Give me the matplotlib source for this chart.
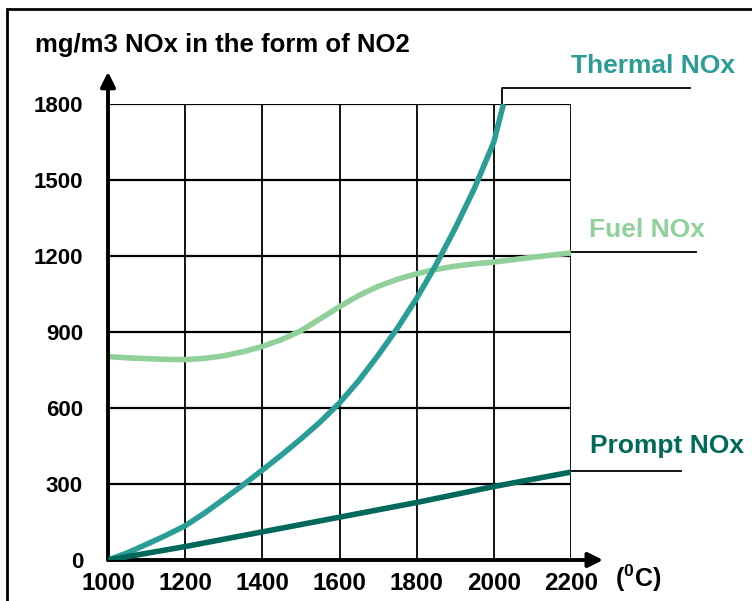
import matplotlib
matplotlib.use('Agg')
import matplotlib.pyplot as plt
from matplotlib.patches import Rectangle

plt.rcParams['font.family'] = ['Liberation Sans', 'DejaVu Sans']
plt.rcParams['mathtext.default'] = 'regular'

# values
thermal_t = [1000, 1050, 1100, 1150, 1200, 1250, 1300, 1350, 1400, 1450, 1500, 1550,
             1600, 1650, 1700, 1750, 1800, 1850, 1900, 1950, 2000, 2025]
thermal_v = [0, 28, 62, 97, 135, 185, 240, 296, 355, 415, 478, 545,
             620, 708, 808, 915, 1033, 1165, 1310, 1468, 1650, 1800]

fuel_t = [1000, 1050, 1100, 1150, 1200, 1250, 1300, 1350, 1400, 1450, 1500, 1550,
          1600, 1650, 1700, 1750, 1800, 1850, 1900, 1950, 2000, 2100, 2200]
fuel_v = [803, 798, 795, 792, 791, 796, 806, 822, 843, 870, 905, 952,
          1000, 1044, 1080, 1108, 1130, 1147, 1160, 1169, 1176, 1195, 1212]

prompt_t = [1000, 1200, 1400, 1600, 1800, 2000, 2200]
prompt_v = [0, 53, 111, 169, 227, 290, 347]

x_ticks = [1000, 1200, 1400, 1600, 1800, 2000, 2200]
y_ticks = [0, 300, 600, 900, 1200, 1500, 1800]

c_thermal = '#2a9d96'
c_fuel = '#90d09a'
c_prompt = '#00695c'

fig = plt.figure(figsize=(7.52, 6.01), dpi=100)
ax = fig.add_axes([108 / 752, 1 - 560 / 601, 463 / 752, 456 / 601])

# outer frame of the picture
fig.patches.append(Rectangle((7 / 752, -0.1), 1.2, 1 - 9 / 601 + 0.1, transform=fig.transFigure,
                             fill=False, edgecolor='black', lw=2))

ax.set_xlim(1000, 2200)
ax.set_ylim(0, 1800)
for x in x_ticks[1:]:
    ax.axvline(x, color='black', lw=1.3, zorder=1)
for y in y_ticks[1:]:
    ax.axhline(y, color='black', lw=1.6, zorder=1)
for s in ax.spines.values():
    s.set_visible(False)

ax.plot(fuel_t, fuel_v, color=c_fuel, lw=4, zorder=3, solid_capstyle='butt')
ax.plot(thermal_t, thermal_v, color=c_thermal, lw=4, zorder=4, solid_capstyle='butt')
ax.plot(prompt_t, prompt_v, color=c_prompt, lw=4, zorder=4, solid_capstyle='butt')

# axis arrows
arr = dict(arrowstyle='-|>', lw=2.8, color='black', mutation_scale=22, shrinkA=0, shrinkB=0)
ax.annotate('', xy=(1000, 1927), xytext=(1000, 0), arrowprops=arr, annotation_clip=False)
ax.annotate('', xy=(2283, 0), xytext=(1000, 0), arrowprops=arr, annotation_clip=False)

# leader lines to the labels
ax.plot([2021, 2021, 2509], [1800, 1863, 1863], color='black', lw=1.3, clip_on=False)
ax.plot([2200, 2524], [1216, 1216], color='black', lw=1.3, clip_on=False)
ax.plot([2200, 2485], [350, 350], color='black', lw=1.3, clip_on=False)

lab = dict(ha='center', va='center', fontsize=19, fontweight='bold')
ax.text(2413, 1951, 'Thermal NOx', color=c_thermal, **lab)
ax.text(2397, 1303, 'Fuel NOx', color=c_fuel, **lab)
ax.text(2449, 449, 'Prompt NOx', color=c_prompt, **lab)

ax.set_xticks(x_ticks)
ax.set_yticks(y_ticks)
ax.set_xticklabels([str(v) for v in x_ticks], fontsize=17.5, fontweight='bold')
ax.set_yticklabels([str(v) for v in y_ticks], fontsize=16, fontweight='bold')
ax.tick_params(length=0)
ax.tick_params(axis='x', pad=9)
ax.tick_params(axis='y', pad=18)

fig.text(35 / 752, 1 - 45 / 601, 'mg/m3 NOx in the form of NO2', fontsize=18.5, fontweight='bold',
         va='center', ha='left')
fig.text(615 / 752, 1 - 578 / 601, '($^{0}$C)', fontsize=18, fontweight='bold', va='center', ha='left')

fig.savefig('out.png', dpi=100)
